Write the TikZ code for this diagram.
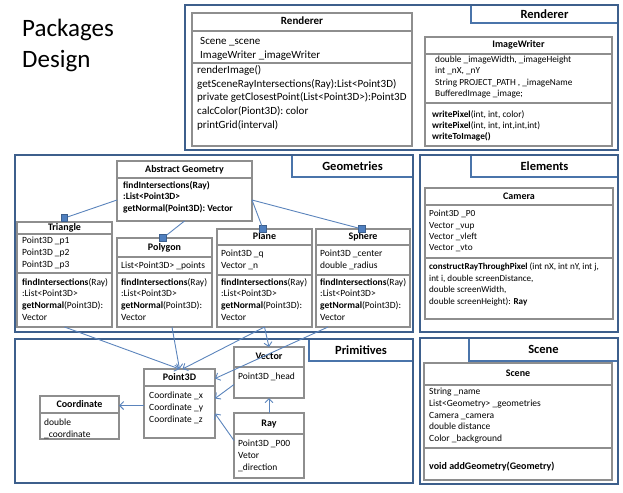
\documentclass[tikz,border=0pt]{standalone}
\usepackage{fontspec}
\setmainfont{Carlito}
\usetikzlibrary{arrows.meta, positioning}
\usepackage{xcolor}
\definecolor{pkgblue}{HTML}{3D5F8C}
\definecolor{tabblue}{HTML}{4A74AA}
\definecolor{clsgray}{HTML}{8E8E8E}
\definecolor{linkblue}{HTML}{5B84BC}
\definecolor{sqblue}{HTML}{4F7FBF}

\begin{document}
\begin{tikzpicture}[x=1pt, y=-1pt]
    \tikzstyle{pkg}=[draw=pkgblue, line width=2.4pt, rectangle, anchor=north west, inner sep=0pt, outer sep=0pt]
    \tikzstyle{pkgtab}=[draw=tabblue, fill=white, line width=1.8pt, rectangle, anchor=north west, inner sep=0pt, outer sep=0pt]
    \tikzstyle{pkgname}=[font=\fontsize{12.5}{14}\selectfont\bfseries, inner sep=0pt]
    \tikzstyle{clsline}=[draw=clsgray, line width=1.8pt]
    \tikzstyle{cls}=[clsline, fill=white, rectangle, anchor=north west, inner sep=0pt, outer sep=0pt]
    \tikzstyle{clsname}=[font=\fontsize{10}{12}\selectfont\bfseries, inner sep=0pt, text height=7pt, text depth=2pt]
    \tikzstyle{txt}=[anchor=north west, align=left, inner sep=0pt, font=\fontsize{9.5}{11.7}\selectfont, execute at begin node=\strut]
    \tikzstyle{link}=[draw=linkblue, line width=0.9pt]
    \tikzstyle{arr}=[link, -{Straight Barb[length=4pt, width=8pt]}]
    \tikzstyle{sqr}=[draw=pkgblue, fill=sqblue, line width=0.6pt, rectangle, minimum size=6.5pt, inner sep=0pt]

    \useasboundingbox (0,0) rectangle (623,492);

    \node[anchor=base west, inner sep=0pt, font=\fontsize{25}{30}\selectfont] (title1) at (22,37) {Packages};
    \node[anchor=base west, inner sep=0pt, font=\fontsize{25}{30}\selectfont] (title2) at (22,68) {Design};

    % tabs first, the frames go over them
    \node[pkgtab, minimum width=147pt, minimum height=18pt] (rend-tab) at (471,5) {};
    \node[pkgtab, minimum width=121pt, minimum height=22pt] (geom-tab) at (292,155) {};
    \node[pkgtab, minimum width=147pt, minimum height=22pt] (elem-tab) at (471,155) {};
    \node[pkgtab, minimum width=104pt, minimum height=22pt] (prim-tab) at (309,339) {};
    \node[pkgtab, minimum width=149pt, minimum height=23pt] (scene-tab) at (469,338) {};

    \node[pkg, minimum width=433pt, minimum height=145pt] (rend-pkg) at (185,5) {};
    \node[pkg, minimum width=398pt, minimum height=177pt] (geom-pkg) at (15,155) {};
    \node[pkg, minimum width=198pt, minimum height=177pt] (elem-pkg) at (420,155) {};
    \node[pkg, minimum width=398pt, minimum height=144pt] (prim-pkg) at (15,339) {};
    \node[pkg, minimum width=198pt, minimum height=146pt] (scene-pkg) at (420,338) {};

    \foreach \p/\t in {rend/Renderer, geom/Geometries, elem/Elements, prim/Primitives, scene/Scene}
        \node[pkgname] (\p-label) at (\p-tab.center) {\t};

    % class boxes
    \node[cls, minimum width=220pt, minimum height=133pt] (rend) at (192,13) {};
    \node[cls, minimum width=187pt, minimum height=109pt] (iw) at (425,37) {};
    \node[cls, minimum width=135pt, minimum height=60pt] (geo) at (117,161) {};
    \node[cls, minimum width=95pt, minimum height=105pt] (tri) at (17,222) {};
    \node[cls, minimum width=95pt, minimum height=89pt] (poly) at (117,238) {};
    \node[cls, minimum width=95pt, minimum height=98pt] (plane) at (217,229) {};
    \node[cls, minimum width=94pt, minimum height=98pt] (sphere) at (316,229) {};
    \node[cls, minimum width=188pt, minimum height=131pt] (cam) at (425,188) {};
    \node[cls, minimum width=71pt, minimum height=69pt] (pt) at (144,369) {};
    \node[cls, minimum width=79pt, minimum height=43pt] (coord) at (40,396) {};
    \node[cls, minimum width=70pt, minimum height=51pt] (vec) at (234,347) {};
    \node[cls, minimum width=70pt, minimum height=65pt] (ray) at (234,413) {};
    \node[cls, minimum width=188pt, minimum height=117pt] (scn) at (424,363) {};

    \foreach \cname/\off in {rend/18, rend/50, iw/17, iw/66, geo/17, tri/12, tri/51, poly/19, poly/35, plane/16, plane/46, sphere/16, sphere/46, cam/17, cam/70, pt/17, coord/17, vec/20, ray/21, scn/22, scn/85}
        \draw[clsline] ([yshift=-\off]\cname.north west) -- ([yshift=-\off]\cname.north east);

    \node[clsname, font=\fontsize{11}{13}\selectfont\bfseries] (rend-name) at ([yshift=-9]rend.north) {Renderer};
    \foreach \cname/\h/\t in {iw/8.5/ImageWriter, geo/8.5/Abstract Geometry, tri/6/Triangle, poly/9.5/Polygon, plane/8/Plane, sphere/8/Sphere, cam/8.5/Camera, pt/8.5/Point3D, coord/8.5/Coordinate, vec/10/Vector, ray/10.5/Ray, scn/11/Scene}
        \node[clsname] (\cname-name) at ([yshift=-\h]\cname.north) {\t};

    \node[txt, font=\fontsize{11}{13.8}\selectfont] (rend-attr) at (200,37) {Scene \_scene\\ImageWriter \_imageWriter};
    \node[txt, font=\fontsize{11}{13.8}\selectfont] (rend-meth) at (197,65) {renderImage()\\getSceneRayIntersections(Ray):List<Point3D)\\private getClosestPoint(List<Point3D>):Point3D\\calcColor(Piont3D): color\\printGrid(interval)};

    \node[txt, font=\fontsize{9.3}{11.3}\selectfont] (iw-attr) at (435,56) {double \_imageWidth, \_imageHeight\\int \_nX, \_nY\\String PROJECT\_PATH , \_imageName\\BufferedImage \_image;};
    \node[txt, font=\fontsize{9.3}{11.2}\selectfont] (iw-meth) at (432,110) {\textbf{writePixel}(int, int, color)\\\textbf{writePixel}(int, int, int,int,int)\\\textbf{writeToImage()}};

    \node[txt, font=\fontsize{9.5}{11.6}\selectfont\bfseries] (geo-meth) at (123,181) {findIntersections(Ray)\\:List<Point3D>\\getNormal(Point3D): Vector};

    \node[txt] (tri-attr) at (22,237) {Point3D \_p1\\Point3D \_p2\\Point3D \_p3};
    \node[txt] (tri-meth) at (22,278) {\textbf{findIntersections}(Ray)\\:List<Point3D>\\\textbf{getNormal}(Point3D):\\Vector};
    \node[txt] (poly-attr) at (121,260) {List<Point3D> \_points};
    \node[txt] (poly-meth) at (121,278) {\textbf{findIntersections}(Ray)\\:List<Point3D>\\\textbf{getNormal}(Point3D):\\Vector};
    \node[txt] (plane-attr) at (221,250) {Point3D \_q\\Vector \_n};
    \node[txt] (plane-meth) at (221,278) {\textbf{findIntersections}(Ray)\\:List<Point3D>\\\textbf{getNormal}(Point3D):\\Vector};
    \node[txt] (sphere-attr) at (320,250) {Point3D \_center\\double \_radius};
    \node[txt] (sphere-meth) at (320,278) {\textbf{findIntersections}(Ray)\\:List<Point3D>\\\textbf{getNormal}(Point3D):\\Vector};

    \node[txt, font=\fontsize{9.3}{11.4}\selectfont] (cam-attr) at (429,210) {Point3D \_P0\\Vector \_vup\\Vector \_vleft\\Vector \_vto};
    \node[txt, font=\fontsize{9.1}{11.4}\selectfont] (cam-meth) at (429,263) {\textbf{constructRayThroughPixel} (int nX, int nY, int j,\\int i, double screenDistance,\\double screenWidth,\\double screenHeight): \textbf{Ray}};

    \node[txt] (pt-attr) at (149,392) {Coordinate \_x\\Coordinate \_y\\Coordinate \_z};
    \node[txt] (coord-attr) at (44,419) {double\\\_coordinate};
    \node[txt] (vec-attr) at (238,371) {Point3D \_head};
    \node[txt] (ray-attr) at (238,440) {Point3D \_P00\\Vetor\\\_direction};

    \node[txt] (scn-attr) at (429,388) {String \_name\\List<Geometry> \_geometries\\Camera \_camera\\double distance\\Color \_background};
    \node[txt, font=\fontsize{10}{12}\selectfont\bfseries] (scn-meth) at (429,461) {void addGeometry(Geometry)};

    % inheritance squares
    \node[sqr] (tri-sq) at ([yshift=4]tri.north) {};
    \node[sqr] (poly-sq) at ([xshift=-1.5]poly.north) {};
    \node[sqr] (plane-sq) at ([xshift=-1.5]plane.north) {};
    \node[sqr] (sphere-sq) at ([xshift=-1]sphere.north) {};
    \draw[link] (tri-sq) -- ([yshift=-9]geo.west);
    \draw[link] (poly-sq) -- (geo.south);
    \draw[link] (plane-sq) -- ([yshift=-9]geo.east);
    \draw[link] (sphere-sq) -- ([yshift=-9]geo.east);

    \draw[arr] (tri.south) -- (pt.north);
    \draw[arr] ([xshift=7.5]poly.south) -- (pt.north);
    \draw[arr] (plane.south) -- ([xshift=3]pt.north);
    \draw[arr] (plane.south) -- (vec.north);
    \draw[arr] ([xshift=-35]sphere.south) -- ([yshift=25]pt.east);
    \draw[arr] ([yshift=-12]vec.west) -- ([yshift=5]pt.east);
    \draw[arr] ([yshift=5]ray.west) -- ([yshift=-10]pt.east);
    \draw[arr] (ray.north) -- (vec.south);
    \draw[arr] ([yshift=-2]pt.west) -- ([yshift=-2]pt.west -| coord.east);
\end{tikzpicture}
\end{document}
